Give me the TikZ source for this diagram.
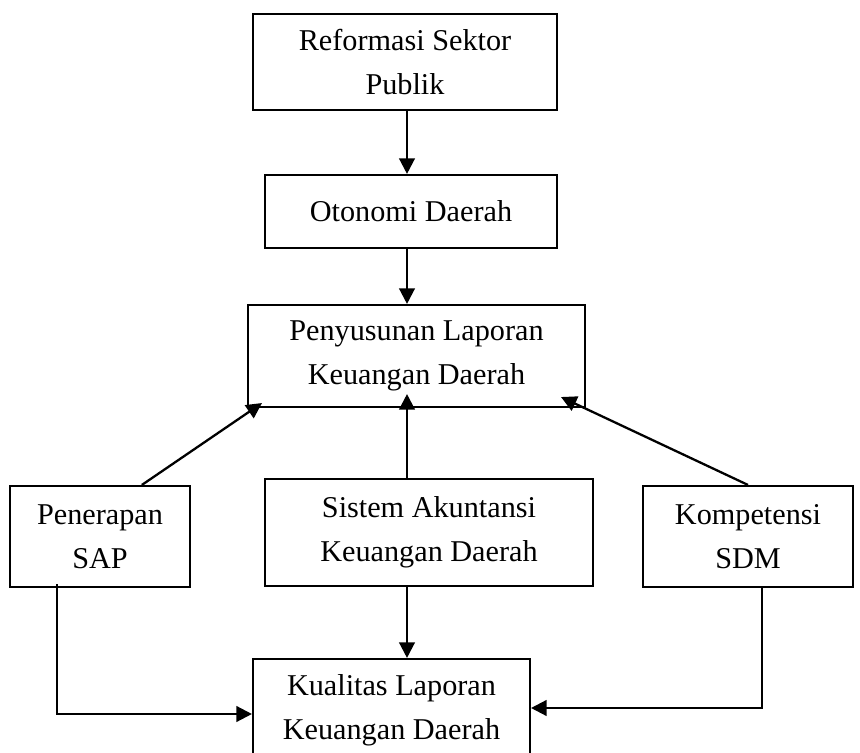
\documentclass[tikz,border=0pt]{standalone}
\usepackage{fontspec}
\setmainfont{Liberation Serif}
\usetikzlibrary{calc, arrows.meta}

\tikzset{
	kotak/.style={draw, line width=1.2pt, align=center, inner sep=0pt},
	panah/.style={line width=1.3pt, -{Triangle[length=0.31cm, width=0.31cm]}}
}

\begin{document}
\begin{tikzpicture}[x=0.02cm, y=-0.02cm, font=\fontsize{17.2}{24.8}\selectfont]
	\useasboundingbox (0,0) rectangle (860,753);
	\coordinate (kol) at (407,0);

	\begin{scope}
		\node[kotak, minimum width=6.08cm, minimum height=1.92cm] (reformasi) at (405,62) {Reformasi Sektor\\Publik};
		\node[kotak, minimum width=5.84cm, minimum height=1.46cm] (otonomi) at (411,211.5) {Otonomi Daerah};
		\node[kotak, minimum width=6.74cm, minimum height=2.04cm] (penyusunan) at (416.5,356) {Penyusunan Laporan\\Keuangan Daerah};
		\node[kotak, minimum width=3.6cm, minimum height=2.02cm] (penerapan) at (100,536.5) {Penerapan\\SAP};
		\node[kotak, minimum width=6.56cm, minimum height=2.14cm] (sistem) at (429,532.5) {Sistem Akuntansi\\Keuangan Daerah};
		\node[kotak, minimum width=4.2cm, minimum height=2.02cm] (kompetensi) at (748,536.5) {Kompetensi\\SDM};
		\node[kotak, minimum width=5.54cm, minimum height=2.04cm] (kualitas) at (391.5,710) {Kualitas Laporan\\Keuangan Daerah};
	\end{scope}

	\begin{scope}
		\draw[panah] (kol |- reformasi.south) -- (kol |- otonomi.north);
		\draw[panah] (kol |- otonomi.south) -- (kol |- penyusunan.north);
		\draw[panah] (kol |- sistem.north) -- ($(kol |- penyusunan.south)+(0,-14)$);
		\draw[panah] (kol |- sistem.south) -- (kol |- kualitas.north);
		\draw[panah] ($(penerapan.north west)!0.73!(penerapan.north east)$) -- ($(penyusunan.south west)+(15,-5)$);
		\draw[panah] (kompetensi.north) -- ($(penyusunan.south east)+(-25,-11)$);
		\draw[panah] ($(penerapan.south west)+(48,-4)$) |- ($(kualitas.west)+(0,4)$);
		\draw[panah] ($(kompetensi.south west)+(120,0)$) |- ($(kualitas.east)+(0,-2)$);
	\end{scope}
\end{tikzpicture}
\end{document}
